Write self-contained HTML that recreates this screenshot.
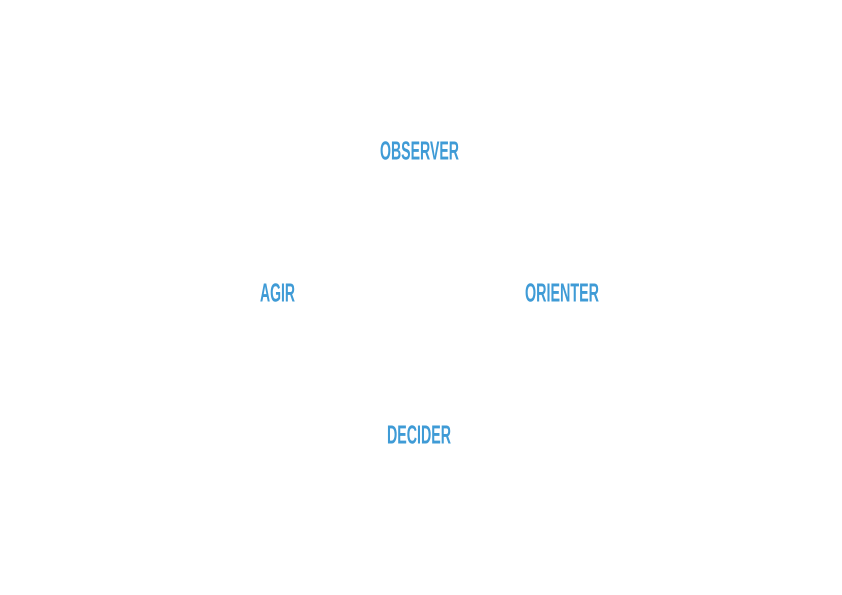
<!DOCTYPE html>
<html><head><meta charset="utf-8"><style>
html,body{margin:0;padding:0;background:#fff;}
svg{display:block}
text{font-family:"Liberation Sans Narrow","Liberation Sans",sans-serif;font-weight:bold;font-size:26px;fill:#3f9bd6;}
</style></head><body>
<svg width="842" height="595" viewBox="0 0 842 595" xmlns="http://www.w3.org/2000/svg">
<text x="380" y="159.5" textLength="79" lengthAdjust="spacingAndGlyphs">OBSERVER</text>
<text x="260" y="301.5" textLength="35" lengthAdjust="spacingAndGlyphs">AGIR</text>
<text x="525" y="301.5" textLength="74" lengthAdjust="spacingAndGlyphs">ORIENTER</text>
<text x="387" y="443.5" textLength="64" lengthAdjust="spacingAndGlyphs">DECIDER</text>
</svg>
</body></html>
